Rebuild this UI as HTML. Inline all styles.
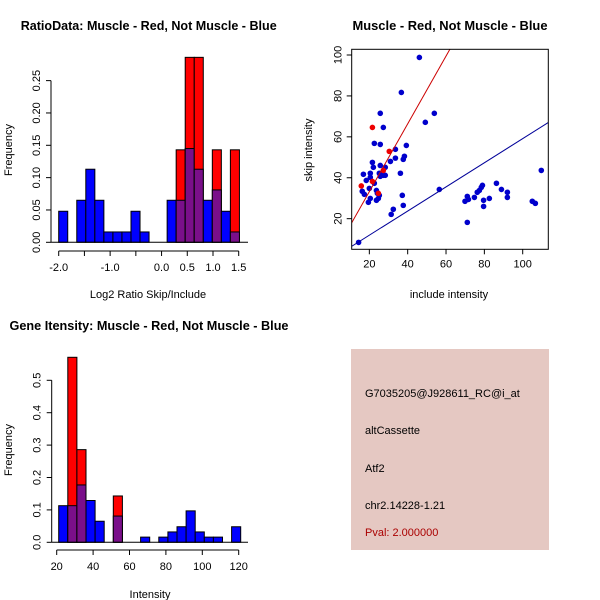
<!DOCTYPE html>
<html><head><meta charset="utf-8"><style>
html,body{margin:0;padding:0;background:#fff}
svg{display:block;font-family:"Liberation Sans",Arial,sans-serif}
</style></head><body>
<svg id="chart" width="600" height="600" viewBox="0 0 600 600">
<rect width="600" height="600" fill="#fff"/>
<g id="p1"></g>
<g id="p2"></g>
<g id="p3"></g>
<g>
<rect x="351" y="349" width="198" height="201" fill="#e5c8c2"/>
<text x="365" y="397" font-size="11" fill="#000">G7035205@J928611_RC@i_at</text>
<text x="365" y="434" font-size="11" fill="#000">altCassette</text>
<text x="365" y="472" font-size="11" fill="#000">Atf2</text>
<text x="365" y="509" font-size="11" fill="#000">chr2.14228-1.21</text>
<text x="365" y="536" font-size="11" fill="#aa0000">Pval: 2.000000</text>
</g>
</svg>
<script>
// ---- Ratio histogram data ----
const ratioBinStart = -2.0;
const ratioBinWidth = 0.1757;
const ratioBlue = [0.048,0,0.065,0.113,0.065,0.016,0.016,0.016,0.048,0.016,0,0,0.065,0.065,0.145,0.113,0.065,0.081,0.048,0.016];
const ratioRed  = [0,0,0,0,0,0,0,0,0,0,0,0,0,0.143,0.286,0.286,0,0.143,0,0.143];
const ratioYTicks = [0,0.05,0.10,0.15,0.20,0.25];
const ratioYLabels = ["0.00","0.05","0.10","0.15","0.20","0.25"];
const ratioXTicks = [-2,-1.5,-1,-0.5,0,0.5,1,1.5];
const ratioXLabels = ["-2.0","","-1.0","","0.0","0.5","1.0","1.5"];
// ---- Scatter data ----
const blueX = [46.1,36.7,25.7,53.9,49.2,27.3,22.6,25.7,39.3,33.6,33.6,38.3,37.7,31,21.6,25.7,22.1,28.3,16.9,20.5,25.2,27.3,25.7,28.3,36.2,18.4,20.5,22.6,20,23.7,16.3,17.4,25.2,24.2,20.5,23.7,24.7,19.5,37.2,37.7,32.5,31.4,56.5,14.4,71.1,69.9,71.1,71.7,74.8,76.3,77.4,78.4,79,79.6,79.6,82.6,86.3,88.9,92,92,105,106.6,109.7];
const blueY = [98.8,81.7,71.5,71.5,67.1,64.6,56.8,56.3,55.8,53.9,49.6,50.5,49,48,47.5,46,45.1,45.1,41.7,42.2,42.2,41.2,40.7,41.2,42.2,38.7,40.2,37.3,34.8,33.8,33.4,31.9,31.4,32.4,29.9,29,29.9,28,31.4,26.5,24.6,22.1,34.3,8.4,18.2,28.5,30.9,29.4,30.4,32.9,33.8,35.3,36.3,29,26,29.9,37.3,34.3,32.9,30.4,28.5,27.5,43.6];
const redX = [15.8,21.6,30.4,21.6,27.3,24.7];
const redY = [36,64.6,52.9,38.2,43.6,32.4];
const redSlope = 1.656, redIntercept = 0.1;
const blueSlope = 0.59, blueIntercept = 0.13;
const scatXTicks = [20,40,60,80,100];
const scatYTicks = [20,40,60,80,100];
// ---- Intensity histogram data ----
const intBinStart = 21.1;
const intBinWidth = 5;
const intBlue = [0.113,0.113,0.177,0.129,0.065,0,0.081,0,0,0.016,0,0.016,0.032,0.048,0.097,0.032,0.016,0.016,0,0.048];
const intRed  = [0,0.571,0.286,0,0,0,0.143,0,0,0,0,0,0,0,0,0,0,0,0,0];
const intYTicks = [0,0.1,0.2,0.3,0.4,0.5];
const intYLabels = ["0.0","0.1","0.2","0.3","0.4","0.5"];
const intXTicks = [20,40,60,80,100,120];

const NS="http://www.w3.org/2000/svg";
function mk(parent,tag,attrs,text){const e=document.createElementNS(NS,tag);for(const k in attrs)e.setAttribute(k,attrs[k]);if(text!==undefined)e.textContent=text;parent.appendChild(e);return e;}

function histogram(g,o){
  const sx=v=>o.x0px+(v-o.x0)*o.xs, sy=v=>o.y0px-v*o.ys;
  const t=mk(g,'text',{x:o.titleX,y:o.titleY,'font-size':13,'font-weight':'bold','text-anchor':'middle',textLength:o.titleLen,lengthAdjust:'spacingAndGlyphs'},o.title);
  
  
  for(let i=0;i<o.blue.length;i++){
    const a=sx(o.start+i*o.bw), b=sx(o.start+(i+1)*o.bw);
    const bv=o.blue[i], rv=o.red[i];
    if(rv>0){const r=mk(g,'rect',{x:a,y:sy(rv),width:b-a,height:sy(0)-sy(rv),fill:'#ff0000',stroke:'#000','stroke-width':1});
      
      }
    if(bv>0){const r=mk(g,'rect',{x:a,y:sy(bv),width:b-a,height:sy(0)-sy(bv),fill:rv>0?'#7a0f8a':'#0000ff',stroke:'#000','stroke-width':1});
      
      }
  }
  // y axis
  const yt=o.yTicks;
  mk(g,'line',{x1:o.axX,x2:o.axX,y1:sy(yt[0]),y2:sy(yt[yt.length-1]),stroke:'#000'});
  yt.forEach((v,i)=>{mk(g,'line',{x1:o.axX-5,x2:o.axX,y1:sy(v),y2:sy(v),stroke:'#000'});
    const tx=mk(g,'text',{x:0,y:0,'font-size':11,'text-anchor':'middle',transform:`translate(${o.axX-11},${sy(v)}) rotate(-90)`},o.yLabels[i]);
    
    });
  // baseline
  mk(g,'line',{x1:o.axX,x2:o.baseEnd,y1:sy(0),y2:sy(0),stroke:'#000'});
  // x axis
  const xt=o.xTicks;
  mk(g,'line',{x1:sx(xt[0]),x2:sx(xt[xt.length-1]),y1:o.axY,y2:o.axY,stroke:'#000'});
  xt.forEach((v,i)=>{mk(g,'line',{x1:sx(v),x2:sx(v),y1:o.axY,y2:o.axY+5,stroke:'#000'});
    if(o.xLabels[i]){const tx=mk(g,'text',{x:sx(v),y:o.axY+20,'font-size':11,'text-anchor':'middle'},o.xLabels[i]);
    
    }});
  const xl=mk(g,'text',{x:o.xlabX,y:o.xlabY,'font-size':11,'text-anchor':'middle'},o.xlab);
  
  
  const yl=mk(g,'text',{x:0,y:0,'font-size':11,'text-anchor':'middle',transform:`translate(12,${o.ylabY}) rotate(-90)`},'Frequency');
  
  
}

histogram(document.getElementById('p1'),{
  title:'RatioData: Muscle - Red, Not Muscle - Blue',titleX:148.7,titleY:30,titleLen:256,
  start:ratioBinStart,bw:ratioBinWidth,blue:ratioBlue,red:ratioRed,
  x0:-2,x0px:58.7,xs:51.43,y0px:242.3,ys:646.7,axX:51,axY:251,baseEnd:248,
  yTicks:ratioYTicks,yLabels:ratioYLabels,xTicks:ratioXTicks,xLabels:ratioXLabels,
  xlab:'Log2 Ratio Skip/Include',xlabX:148,xlabY:298,ylabY:150});

histogram(document.getElementById('p3'),{
  title:'Gene Itensity: Muscle - Red, Not Muscle - Blue',titleX:149,titleY:330,titleLen:279,
  start:intBinStart,bw:intBinWidth,blue:intBlue,red:intRed,
  x0:20,x0px:56.7,xs:1.82,y0px:542.3,ys:324,axX:51.7,axY:550,baseEnd:248,
  yTicks:intYTicks,yLabels:intYLabels,xTicks:intXTicks,xLabels:intXTicks.map(String),
  xlab:'Intensity',xlabX:150,xlabY:598,ylabY:450});

// scatter
(function(){
  const g=document.getElementById('p2');
  const L=351.7,R=548.3,T=49.3,B=249.3;
  const sx=v=>331+v*1.917, sy=v=>259.6-v*2.046;
  const t=mk(g,'text',{x:450,y:30,'font-size':13,'font-weight':'bold','text-anchor':'middle',textLength:195,lengthAdjust:'spacingAndGlyphs'},'Muscle - Red, Not Muscle - Blue');
  
  
  const cp=mk(g,'clipPath',{id:'clip'});mk(cp,'rect',{x:L,y:T,width:R-L,height:B-T});
  const lg=mk(g,'g',{'clip-path':'url(#clip)'});
  blueX.forEach((x,i)=>{const c=mk(lg,'circle',{cx:sx(x),cy:sy(blueY[i]),r:2.8,fill:'#0000cc'});
    
    });
  redX.forEach((x,i)=>{const c=mk(lg,'circle',{cx:sx(x),cy:sy(redY[i]),r:2.8,fill:'#ee0000'});
    
    });
  const rl=mk(lg,'line',{x1:sx(0),y1:sy(redIntercept),x2:sx(120),y2:sy(redIntercept+redSlope*120),stroke:'#cc0000','stroke-width':1});
  
  
  const bl=mk(lg,'line',{x1:sx(0),y1:sy(blueIntercept),x2:sx(120),y2:sy(blueIntercept+blueSlope*120),stroke:'#000099','stroke-width':1});
  
  
  mk(g,'rect',{x:L,y:T,width:R-L,height:B-T,fill:'none',stroke:'#000'});
  scatXTicks.forEach(v=>{mk(g,'line',{x1:sx(v),x2:sx(v),y1:B,y2:B+5,stroke:'#000'});
    const tx=mk(g,'text',{x:sx(v),y:B+18,'font-size':11,'text-anchor':'middle'},String(v));
    
    });
  scatYTicks.forEach(v=>{mk(g,'line',{x1:L-5,x2:L,y1:sy(v),y2:sy(v),stroke:'#000'});
    const tx=mk(g,'text',{x:0,y:0,'font-size':11,'text-anchor':'middle',transform:`translate(${L-10},${sy(v)}) rotate(-90)`},String(v));
    
    });
  const xl=mk(g,'text',{x:449,y:298,'font-size':11,'text-anchor':'middle'},'include intensity');
  
  
  const yl=mk(g,'text',{x:0,y:0,'font-size':11,'text-anchor':'middle',transform:'translate(312,150) rotate(-90)'},'skip intensity');
  
  
})();
</script>
</body></html>
